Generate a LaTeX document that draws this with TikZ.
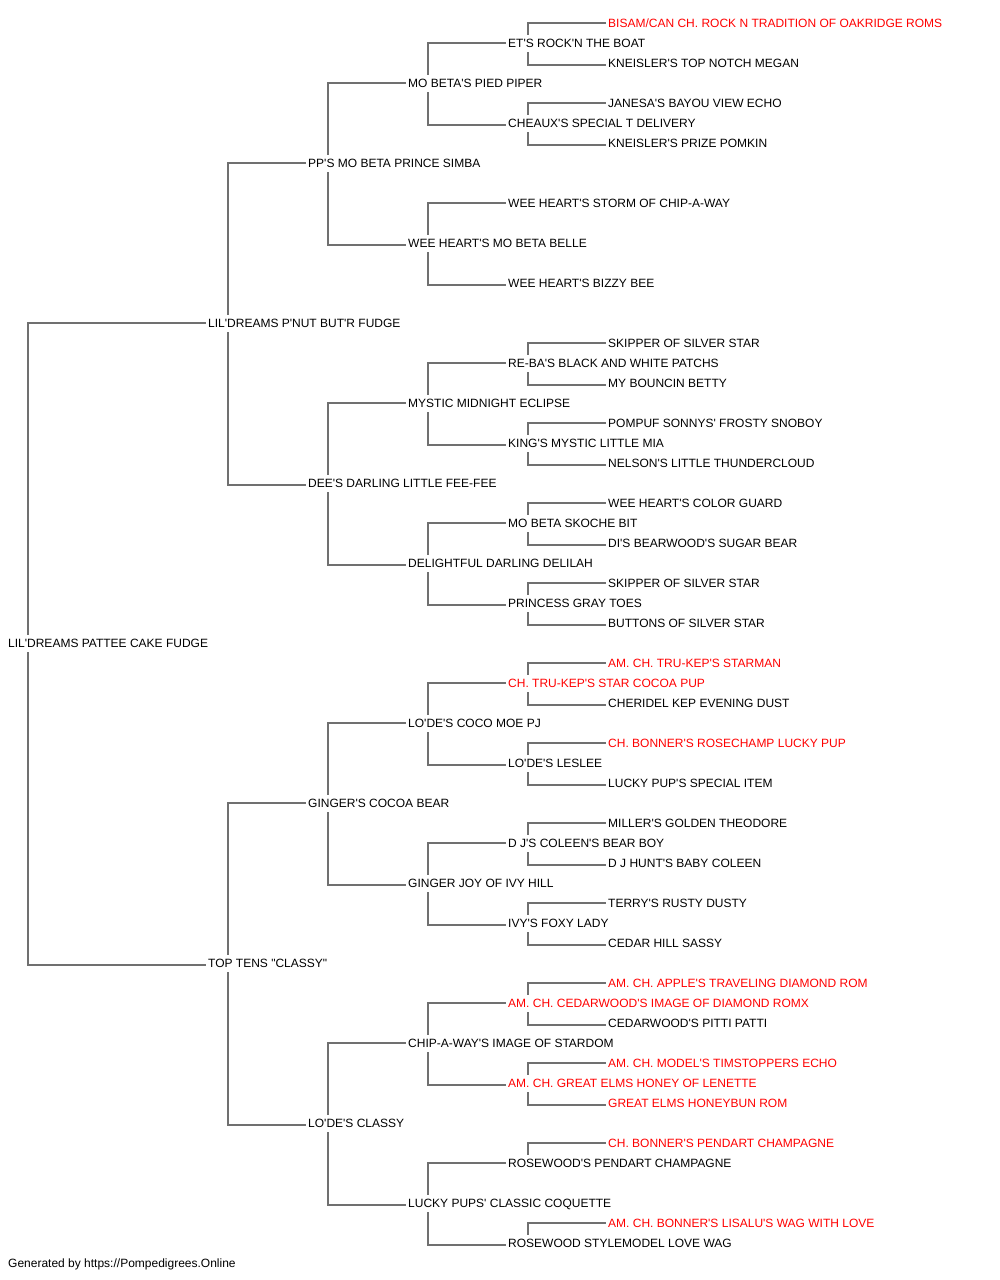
\documentclass[tikz,border=0pt]{standalone}
\usepackage{fontspec}
\setmainfont{Liberation Sans}[Ligatures=TeXOff]
\pgfdeclarelayer{bg}
\pgfsetlayers{bg,main}
\definecolor{linkgray}{HTML}{707070}
\definecolor{champ}{HTML}{FF0000}
\tikzset{
  nd/.style={anchor=west, inner xsep=2.5pt, inner ysep=4.3pt, text height=8.6pt, text depth=0pt,
    fill=white, font=\fontsize{12}{14}\selectfont, text=black},
  ch/.style={nd, text=champ},
  link/.style={draw=linkgray, line width=2pt},
}
\newcommand\pairlink[3]{\draw[link] ([yshift=1pt]#2.west) -| ([xshift=22.5pt]#1.west) |- ([yshift=-1pt]#3.west);}
\newcommand\sirelink[2]{\draw[link] ([yshift=1pt]#2.west) -| ([xshift=22.5pt]#1.west);}
\begin{document}
\begin{tikzpicture}[x=1pt,y=-1pt]
\useasboundingbox (0,0) rectangle (1000,1280);
% generation 0
\node[nd] (a0) at (5.5,643.5) {LIL'DREAMS PATTEE CAKE FUDGE};
% generation 1
\node[nd] (b0) at (205.5,323.5) {LIL'DREAMS P'NUT BUT'R FUDGE};
\node[nd] (b1) at (205.5,963.5) {TOP TENS "CLASSY"};
% generation 2
\node[nd] (c0) at (305.5,163.5) {PP'S MO BETA PRINCE SIMBA};
\node[nd] (c1) at (305.5,483.5) {DEE'S DARLING LITTLE FEE-FEE};
\node[nd] (c2) at (305.5,803.5) {GINGER'S COCOA BEAR};
\node[nd] (c3) at (305.5,1123.5) {LO'DE'S CLASSY};
% generation 3
\node[nd] (d0) at (405.5,83.5) {MO BETA'S PIED PIPER};
\node[nd] (d1) at (405.5,243.5) {WEE HEART'S MO BETA BELLE};
\node[nd] (d2) at (405.5,403.5) {MYSTIC MIDNIGHT ECLIPSE};
\node[nd] (d3) at (405.5,563.5) {DELIGHTFUL DARLING DELILAH};
\node[nd] (d4) at (405.5,723.5) {LO'DE'S COCO MOE PJ};
\node[nd] (d5) at (405.5,883.5) {GINGER JOY OF IVY HILL};
\node[nd] (d6) at (405.5,1043.5) {CHIP-A-WAY'S IMAGE OF STARDOM};
\node[nd] (d7) at (405.5,1203.5) {LUCKY PUPS' CLASSIC COQUETTE};
% generation 4
\node[nd] (e0) at (505.5,43.5) {ET'S ROCK'N THE BOAT};
\node[nd] (e1) at (505.5,123.5) {CHEAUX'S SPECIAL T DELIVERY};
\node[nd] (e2) at (505.5,203.5) {WEE HEART'S STORM OF CHIP-A-WAY};
\node[nd] (e3) at (505.5,283.5) {WEE HEART'S BIZZY BEE};
\node[nd] (e4) at (505.5,363.5) {RE-BA'S BLACK AND WHITE PATCHS};
\node[nd] (e5) at (505.5,443.5) {KING'S MYSTIC LITTLE MIA};
\node[nd] (e6) at (505.5,523.5) {MO BETA SKOCHE BIT};
\node[nd] (e7) at (505.5,603.5) {PRINCESS GRAY TOES};
\node[ch] (e8) at (505.5,683.5) {CH. TRU-KEP'S STAR COCOA PUP};
\node[nd] (e9) at (505.5,763.5) {LO'DE'S LESLEE};
\node[nd] (e10) at (505.5,843.5) {D J'S COLEEN'S BEAR BOY};
\node[nd] (e11) at (505.5,923.5) {IVY'S FOXY LADY};
\node[ch] (e12) at (505.5,1003.5) {AM. CH. CEDARWOOD'S IMAGE OF DIAMOND ROMX};
\node[ch] (e13) at (505.5,1083.5) {AM. CH. GREAT ELMS HONEY OF LENETTE};
\node[nd] (e14) at (505.5,1163.5) {ROSEWOOD'S PENDART CHAMPAGNE};
\node[nd] (e15) at (505.5,1243.5) {ROSEWOOD STYLEMODEL LOVE WAG};
% generation 5
\node[ch] (f0) at (605.5,23.5) {BISAM/CAN CH. ROCK N TRADITION OF OAKRIDGE ROMS};
\node[nd] (f1) at (605.5,63.5) {KNEISLER'S TOP NOTCH MEGAN};
\node[nd] (f2) at (605.5,103.5) {JANESA'S BAYOU VIEW ECHO};
\node[nd] (f3) at (605.5,143.5) {KNEISLER'S PRIZE POMKIN};
\node[nd] (f8) at (605.5,343.5) {SKIPPER OF SILVER STAR};
\node[nd] (f9) at (605.5,383.5) {MY BOUNCIN BETTY};
\node[nd] (f10) at (605.5,423.5) {POMPUF SONNYS' FROSTY SNOBOY};
\node[nd] (f11) at (605.5,463.5) {NELSON'S LITTLE THUNDERCLOUD};
\node[nd] (f12) at (605.5,503.5) {WEE HEART'S COLOR GUARD};
\node[nd] (f13) at (605.5,543.5) {DI'S BEARWOOD'S SUGAR BEAR};
\node[nd] (f14) at (605.5,583.5) {SKIPPER OF SILVER STAR};
\node[nd] (f15) at (605.5,623.5) {BUTTONS OF SILVER STAR};
\node[ch] (f16) at (605.5,663.5) {AM. CH. TRU-KEP'S STARMAN};
\node[nd] (f17) at (605.5,703.5) {CHERIDEL KEP EVENING DUST};
\node[ch] (f18) at (605.5,743.5) {CH. BONNER'S ROSECHAMP LUCKY PUP};
\node[nd] (f19) at (605.5,783.5) {LUCKY PUP'S SPECIAL ITEM};
\node[nd] (f20) at (605.5,823.5) {MILLER'S GOLDEN THEODORE};
\node[nd] (f21) at (605.5,863.5) {D J HUNT'S BABY COLEEN};
\node[nd] (f22) at (605.5,903.5) {TERRY'S RUSTY DUSTY};
\node[nd] (f23) at (605.5,943.5) {CEDAR HILL SASSY};
\node[ch] (f24) at (605.5,983.5) {AM. CH. APPLE'S TRAVELING DIAMOND ROM};
\node[nd] (f25) at (605.5,1023.5) {CEDARWOOD'S PITTI PATTI};
\node[ch] (f26) at (605.5,1063.5) {AM. CH. MODEL'S TIMSTOPPERS ECHO};
\node[ch] (f27) at (605.5,1103.5) {GREAT ELMS HONEYBUN ROM};
\node[ch] (f28) at (605.5,1143.5) {CH. BONNER'S PENDART CHAMPAGNE};
\node[ch] (f30) at (605.5,1223.5) {AM. CH. BONNER'S LISALU'S WAG WITH LOVE};
% footer
\node[nd] (foot) at (5.5,1263.5) {Generated by https://Pompedigrees.Online};
\begin{pgfonlayer}{bg}
\pairlink{a0}{b0}{b1}
\pairlink{b0}{c0}{c1}
\pairlink{b1}{c2}{c3}
\pairlink{c0}{d0}{d1}
\pairlink{c1}{d2}{d3}
\pairlink{c2}{d4}{d5}
\pairlink{c3}{d6}{d7}
\pairlink{d0}{e0}{e1}
\pairlink{d1}{e2}{e3}
\pairlink{d2}{e4}{e5}
\pairlink{d3}{e6}{e7}
\pairlink{d4}{e8}{e9}
\pairlink{d5}{e10}{e11}
\pairlink{d6}{e12}{e13}
\pairlink{d7}{e14}{e15}
\pairlink{e0}{f0}{f1}
\pairlink{e1}{f2}{f3}
\pairlink{e4}{f8}{f9}
\pairlink{e5}{f10}{f11}
\pairlink{e6}{f12}{f13}
\pairlink{e7}{f14}{f15}
\pairlink{e8}{f16}{f17}
\pairlink{e9}{f18}{f19}
\pairlink{e10}{f20}{f21}
\pairlink{e11}{f22}{f23}
\pairlink{e12}{f24}{f25}
\pairlink{e13}{f26}{f27}
\sirelink{e14}{f28}
\sirelink{e15}{f30}
\end{pgfonlayer}
\end{tikzpicture}
\end{document}
